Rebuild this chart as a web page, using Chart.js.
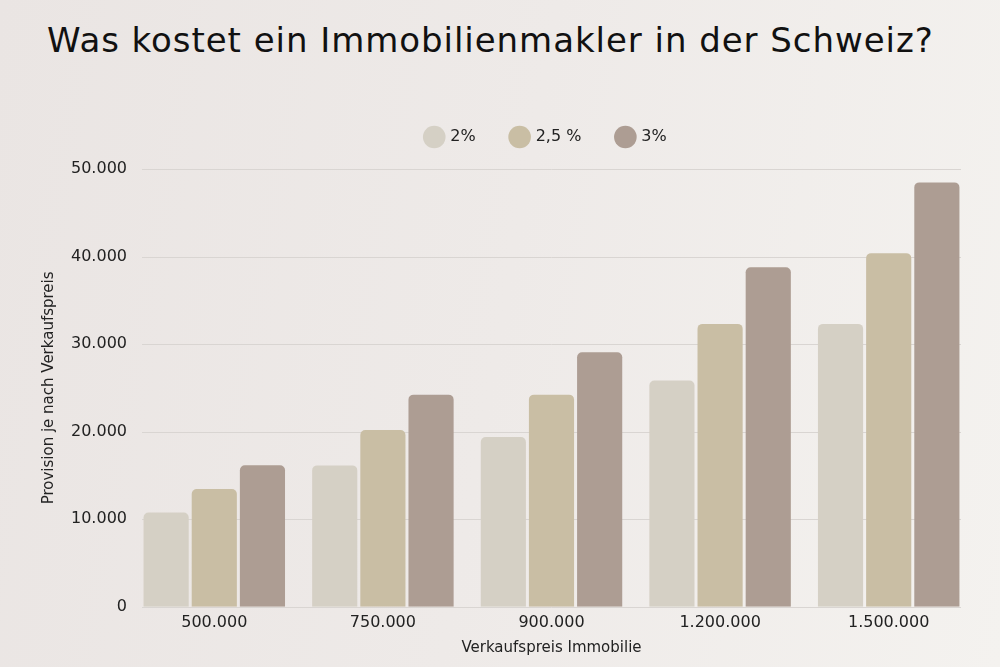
<!DOCTYPE html>
<html>
<head>
<meta charset="utf-8">
<script src="https://cdn.jsdelivr.net/npm/chart.js@4"></script>
<style>
  html, body { margin: 0; padding: 0; }
  body {
    width: 1000px; height: 667px; overflow: hidden;
    background: linear-gradient(100deg, #eae5e3 0%, #eeeae8 50%, #f4f2ef 100%);
  }
  #wrap { position: relative; width: 1000px; height: 667px; }
  #title {
    position: absolute; left: 47px; top: 20px;
    font-family: 'DejaVu Sans', sans-serif; font-size: 34px; line-height: 40px;
    letter-spacing: 0.95px; color: #111; white-space: nowrap;
  }
  canvas { position: absolute; left: 0; top: 0; }
</style>
</head>
<body>
<div id="wrap">
  <div id="title">Was kostet ein Immobilienmakler in der Schweiz?</div>
  <canvas id="myChart" width="1000" height="667"></canvas>
</div>
<script>
// Verkaufspreis (categories)
const prices = ['500.000', '750.000', '900.000', '1.200.000', '1.500.000'];
// Provision je Satz
const prov2 = [10770, 16150, 19390, 25850, 32310];
const prov25 = [13460, 20190, 24230, 32310, 40390];
const prov3 = [16160, 24230, 29080, 38770, 48470];
const seriesNames = ['2%', '2,5 %', '3%'];
const yTicks = [0, 10000, 20000, 30000, 40000, 50000];

const font = "'DejaVu Sans', sans-serif";

function fmt(v) {
  return String(v).replace(/\B(?=(\d{3})+(?!\d))/g, '.');
}

// grid lines are a bit shorter than the category area
const insetGrid = {
  id: 'insetGrid',
  beforeDatasetsDraw(chart) {
    let c = chart.ctx, a = chart.chartArea, y = chart.scales.y;
    c.save();
    c.strokeStyle = '#d9d5d2';
    c.lineWidth = 1;
    for (let v of yTicks) {
      let py = Math.round(y.getPixelForValue(v)) + 0.5;
      c.beginPath();
      c.moveTo(a.left + 12, py);
      c.lineTo(a.right - 12, py);
      c.stroke();
    }
    c.restore();
  }
};

// more room under the legend, and legend centred over the plot
const legendTweak = {
  id: 'legendTweak',
  beforeInit(chart) {
    const fit = chart.legend.fit;
    chart.legend.fit = function () {
      fit.bind(chart.legend)();
      this.height += 14;
    };
  },
  afterLayout(chart) {
    let lg = chart.legend, a = chart.chartArea;
    let shift = (a.left + a.right) / 2 - 5 - (lg.left + lg.right) / 2;
    lg.left += shift;
    lg.right += shift;
  }
};

let ctx = document.getElementById('myChart').getContext('2d');

let chart = new Chart(ctx, {
  type: 'bar',
  data: {
    labels: prices,
    datasets: [
      { label: seriesNames[0], data: prov2, backgroundColor: '#d5d0c5' },
      { label: seriesNames[1], data: prov25, backgroundColor: '#c9bea4' },
      { label: seriesNames[2], data: prov3, backgroundColor: '#ad9d93' }
    ]
  },
  plugins: [insetGrid, legendTweak],
  options: {
    responsive: false,
    animation: false,
    layout: { padding: { left: 40, right: 27, top: 93, bottom: 0 } },
    datasets: {
      bar: {
        categoryPercentage: 0.857,
        barPercentage: 0.9375,
        borderRadius: { topLeft: 5, topRight: 5 },
        borderSkipped: 'bottom'
      }
    },
    plugins: {
      legend: {
        position: 'top',
        align: 'center',
        labels: {
          usePointStyle: true,
          pointStyle: 'circle',
          boxWidth: 16,
          boxHeight: 16,
          padding: 36,
          color: '#222',
          font: { family: font, size: 16 }
        }
      },
      tooltip: { enabled: false }
    },
    scales: {
      x: {
        grid: { display: false, drawTicks: false },
        border: { display: false },
        ticks: { color: '#222', font: { family: font, size: 16 }, padding: 6 },
        title: {
          display: true,
          text: 'Verkaufspreis Immobilie',
          color: '#222',
          font: { family: font, size: 15 },
          padding: { top: 1, bottom: 10 }
        }
      },
      y: {
        min: 0,
        max: 50000,
        afterBuildTicks: (axis) => { axis.ticks = yTicks.map(v => ({ value: v })); },
        grid: { display: false, drawTicks: false },
        border: { display: false },
        ticks: {
          color: '#222',
          font: { family: font, size: 16 },
          padding: 3,
          callback: (v) => fmt(v)
        },
        title: {
          display: true,
          text: 'Provision je nach Verkaufspreis',
          color: '#222',
          font: { family: font, size: 15 },
          padding: { top: 0, bottom: 10 }
        }
      }
    }
  }
});
</script>
</body>
</html>
